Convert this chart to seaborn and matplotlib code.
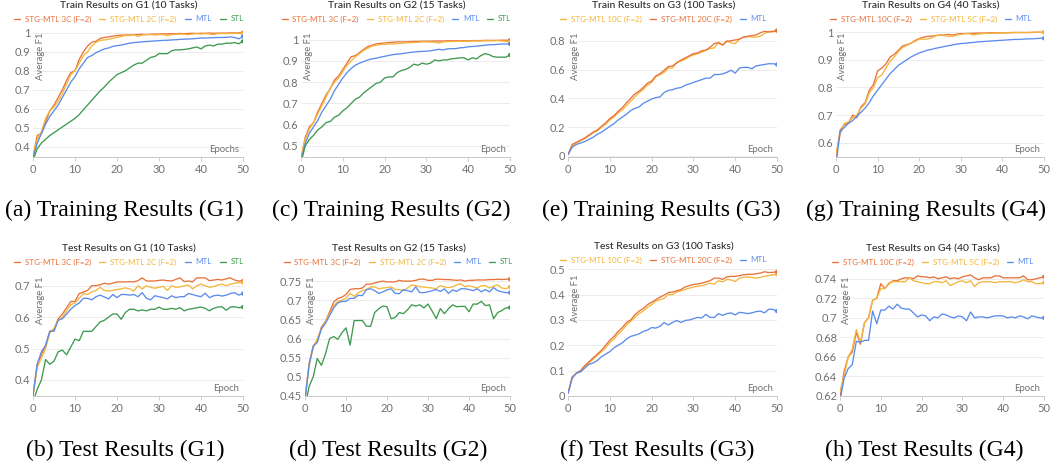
import numpy as np
import pandas as pd
import matplotlib
matplotlib.use("Agg")
import matplotlib.pyplot as plt
import seaborn as sns

# ---------------------------------------------------------------- data
epochs = np.arange(51)

# Training, G1 (10 tasks)
g1_train_3c = [0.35, 0.46, 0.47, 0.53, 0.59, 0.62, 0.66, 0.70, 0.75, 0.79,
               0.80, 0.86, 0.90, 0.93, 0.95, 0.955, 0.97, 0.975, 0.978, 0.982,
               0.985, 0.987, 0.988, 0.988, 0.990, 0.990, 0.992, 0.990, 0.992, 0.993,
               0.993, 0.994, 0.994, 0.995, 0.995, 0.996, 0.995, 0.996, 0.997, 0.996,
               0.997, 0.997, 0.998, 0.997, 0.998, 0.998, 0.998, 0.999, 0.999, 0.999,
               1.0]
g1_train_2c = [0.36, 0.44, 0.48, 0.55, 0.59, 0.61, 0.64, 0.68, 0.73, 0.78,
               0.80, 0.84, 0.88, 0.90, 0.93, 0.95, 0.96, 0.962, 0.965, 0.970,
               0.975, 0.980, 0.985, 0.985, 0.990, 0.980, 0.988, 0.990, 0.990, 0.988,
               0.990, 0.990, 0.985, 0.990, 0.992, 0.993, 0.992, 0.990, 0.993, 0.995,
               0.993, 0.995, 0.993, 0.990, 0.995, 0.996, 0.995, 0.996, 0.997, 0.996,
               0.995]
g1_train_mtl = [0.34, 0.42, 0.47, 0.52, 0.56, 0.59, 0.62, 0.66, 0.70, 0.74,
                0.77, 0.81, 0.84, 0.87, 0.88, 0.895, 0.905, 0.915, 0.920, 0.928,
                0.932, 0.935, 0.940, 0.945, 0.948, 0.950, 0.952, 0.954, 0.955, 0.957,
                0.958, 0.960, 0.960, 0.962, 0.963, 0.965, 0.966, 0.967, 0.968, 0.970,
                0.972, 0.972, 0.973, 0.974, 0.975, 0.975, 0.976, 0.978, 0.975, 0.968,
                0.980]
g1_train_stl = [0.33, 0.39, 0.42, 0.44, 0.46, 0.475, 0.49, 0.505, 0.52, 0.535,
                0.55, 0.57, 0.595, 0.62, 0.645, 0.67, 0.695, 0.715, 0.74, 0.76,
                0.78, 0.79, 0.80, 0.815, 0.83, 0.84, 0.84, 0.855, 0.87, 0.875,
                0.89, 0.89, 0.89, 0.905, 0.91, 0.91, 0.912, 0.915, 0.92, 0.925,
                0.915, 0.93, 0.935, 0.93, 0.94, 0.94, 0.945, 0.945, 0.948, 0.942,
                0.955]

# Training, G2 (15 tasks)
g2_train_3c = [0.44, 0.54, 0.59, 0.61, 0.66, 0.70, 0.74, 0.77, 0.81, 0.83,
               0.86, 0.89, 0.92, 0.925, 0.94, 0.955, 0.968, 0.975, 0.98, 0.983,
               0.985, 0.987, 0.988, 0.99, 0.99, 0.99, 0.991, 0.992, 0.992, 0.993,
               0.993, 0.993, 0.994, 0.994, 0.994, 0.995, 0.995, 0.995, 0.995, 0.996,
               0.995, 0.996, 0.996, 0.996, 0.997, 0.997, 0.997, 0.997, 0.998, 0.998,
               0.998]
g2_train_2c = [0.45, 0.53, 0.58, 0.61, 0.65, 0.69, 0.73, 0.77, 0.80, 0.82,
               0.85, 0.88, 0.90, 0.92, 0.935, 0.95, 0.96, 0.97, 0.975, 0.977,
               0.978, 0.98, 0.98, 0.982, 0.983, 0.985, 0.986, 0.987, 0.988, 0.99,
               0.99, 0.989, 0.988, 0.985, 0.99, 0.991, 0.992, 0.992, 0.993, 0.993,
               0.993, 0.994, 0.994, 0.994, 0.995, 0.995, 0.995, 0.996, 0.994, 0.992,
               0.99]
g2_train_mtl = [0.43, 0.51, 0.56, 0.59, 0.62, 0.66, 0.69, 0.72, 0.76, 0.79,
                0.82, 0.845, 0.865, 0.88, 0.89, 0.897, 0.905, 0.91, 0.913, 0.918,
                0.922, 0.926, 0.93, 0.932, 0.934, 0.937, 0.94, 0.942, 0.944, 0.945,
                0.946, 0.948, 0.952, 0.955, 0.952, 0.957, 0.958, 0.958, 0.962, 0.963,
                0.967, 0.968, 0.97, 0.972, 0.974, 0.976, 0.977, 0.978, 0.98, 0.98,
                0.98]
g2_train_stl = [0.42, 0.50, 0.53, 0.55, 0.575, 0.59, 0.61, 0.615, 0.635, 0.645,
                0.665, 0.68, 0.70, 0.72, 0.73, 0.75, 0.765, 0.78, 0.795, 0.80,
                0.82, 0.825, 0.825, 0.845, 0.855, 0.86, 0.87, 0.885, 0.88, 0.89,
                0.885, 0.89, 0.905, 0.90, 0.905, 0.905, 0.91, 0.912, 0.915, 0.915,
                0.905, 0.915, 0.91, 0.925, 0.935, 0.93, 0.92, 0.918, 0.918, 0.918,
                0.928]

# Training, G3 (100 tasks)
g3_train_10c = [0.01, 0.07, 0.09, 0.105, 0.12, 0.14, 0.16, 0.175, 0.20, 0.22,
                0.25, 0.27, 0.30, 0.32, 0.35, 0.38, 0.41, 0.44, 0.46, 0.49,
                0.51, 0.55, 0.565, 0.58, 0.61, 0.61, 0.65, 0.66, 0.67, 0.69,
                0.70, 0.71, 0.72, 0.735, 0.745, 0.75, 0.79, 0.77, 0.80, 0.785,
                0.78, 0.81, 0.825, 0.83, 0.825, 0.825, 0.83, 0.85, 0.865, 0.86,
                0.87]
g3_train_20c = [0.01, 0.08, 0.095, 0.11, 0.125, 0.145, 0.165, 0.18, 0.205, 0.23,
                0.26, 0.28, 0.31, 0.335, 0.37, 0.40, 0.43, 0.45, 0.475, 0.505,
                0.52, 0.555, 0.57, 0.595, 0.62, 0.625, 0.645, 0.665, 0.68, 0.695,
                0.71, 0.715, 0.73, 0.735, 0.755, 0.78, 0.785, 0.77, 0.795, 0.80,
                0.805, 0.81, 0.825, 0.83, 0.835, 0.84, 0.855, 0.865, 0.86, 0.865,
                0.87]
g3_train_mtl = [0.01, 0.06, 0.08, 0.09, 0.10, 0.115, 0.13, 0.15, 0.165, 0.185,
                0.205, 0.225, 0.25, 0.27, 0.29, 0.315, 0.33, 0.34, 0.365, 0.38,
                0.395, 0.405, 0.41, 0.44, 0.455, 0.46, 0.47, 0.475, 0.49, 0.50,
                0.51, 0.52, 0.53, 0.54, 0.54, 0.565, 0.565, 0.57, 0.58, 0.595,
                0.575, 0.61, 0.615, 0.615, 0.605, 0.625, 0.63, 0.635, 0.64, 0.64,
                0.635]

# Training, G4 (40 tasks)
g4_train_10c = [0.55, 0.645, 0.665, 0.67, 0.70, 0.69, 0.73, 0.745, 0.79, 0.81,
                0.86, 0.87, 0.885, 0.91, 0.92, 0.935, 0.95, 0.955, 0.96, 0.97,
                0.977, 0.982, 0.985, 0.986, 0.988, 0.99, 0.99, 0.992, 0.99, 0.993,
                0.995, 0.995, 0.996, 0.996, 0.997, 0.997, 0.997, 0.998, 0.998, 0.998,
                0.998, 0.998, 0.999, 0.999, 0.999, 0.999, 0.999, 0.999, 1.0, 1.0,
                1.0]
g4_train_5c = [0.56, 0.63, 0.67, 0.675, 0.69, 0.70, 0.725, 0.74, 0.78, 0.80,
               0.835, 0.845, 0.87, 0.895, 0.91, 0.93, 0.945, 0.952, 0.96, 0.967,
               0.975, 0.975, 0.975, 0.98, 0.987, 0.99, 0.988, 0.985, 0.985, 0.99,
               0.992, 0.995, 0.995, 0.99, 0.993, 0.995, 0.996, 0.996, 0.997, 0.997,
               0.998, 0.998, 0.998, 0.999, 0.999, 0.999, 0.999, 1.0, 1.0, 1.0,
               1.0]
g4_train_mtl = [0.52, 0.64, 0.655, 0.67, 0.68, 0.695, 0.71, 0.725, 0.745, 0.77,
                0.79, 0.81, 0.83, 0.85, 0.865, 0.88, 0.89, 0.90, 0.91, 0.918,
                0.925, 0.93, 0.935, 0.938, 0.942, 0.945, 0.948, 0.951, 0.954, 0.957,
                0.959, 0.96, 0.962, 0.963, 0.965, 0.966, 0.967, 0.968, 0.969, 0.97,
                0.971, 0.972, 0.973, 0.974, 0.974, 0.975, 0.976, 0.976, 0.977, 0.978,
                0.978]

# Test, G1 (10 tasks)
g1_test_3c = [0.35, 0.45, 0.48, 0.51, 0.555, 0.56, 0.595, 0.61, 0.63, 0.65,
              0.65, 0.675, 0.68, 0.685, 0.70, 0.70, 0.703, 0.708, 0.705, 0.708,
              0.712, 0.712, 0.712, 0.713, 0.712, 0.716, 0.725, 0.715, 0.715, 0.715,
              0.717, 0.718, 0.716, 0.715, 0.72, 0.725, 0.713, 0.715, 0.712, 0.725,
              0.725, 0.725, 0.716, 0.718, 0.72, 0.718, 0.722, 0.725, 0.718, 0.715,
              0.715]
g1_test_2c = [0.35, 0.44, 0.47, 0.50, 0.55, 0.565, 0.59, 0.60, 0.62, 0.64,
              0.645, 0.66, 0.675, 0.672, 0.68, 0.685, 0.695, 0.685, 0.683, 0.685,
              0.688, 0.69, 0.693, 0.69, 0.683, 0.70, 0.69, 0.70, 0.695, 0.692,
              0.695, 0.698, 0.685, 0.70, 0.695, 0.696, 0.70, 0.702, 0.69, 0.70,
              0.705, 0.70, 0.695, 0.697, 0.702, 0.705, 0.70, 0.705, 0.708, 0.71,
              0.71]
g1_test_mtl = [0.35, 0.45, 0.49, 0.51, 0.555, 0.555, 0.59, 0.595, 0.61, 0.625,
               0.637, 0.645, 0.66, 0.66, 0.655, 0.665, 0.67, 0.664, 0.658, 0.672,
               0.662, 0.672, 0.672, 0.67, 0.672, 0.665, 0.678, 0.66, 0.655, 0.668,
               0.665, 0.662, 0.658, 0.668, 0.662, 0.665, 0.665, 0.675, 0.672, 0.668,
               0.665, 0.676, 0.662, 0.668, 0.67, 0.667, 0.67, 0.675, 0.678, 0.67,
               0.675]
g1_test_stl = [0.33, 0.37, 0.40, 0.465, 0.45, 0.46, 0.49, 0.495, 0.48, 0.505,
               0.53, 0.525, 0.555, 0.555, 0.555, 0.57, 0.585, 0.59, 0.60, 0.61,
               0.61, 0.593, 0.615, 0.625, 0.625, 0.62, 0.623, 0.62, 0.625, 0.625,
               0.632, 0.625, 0.625, 0.628, 0.625, 0.63, 0.62, 0.625, 0.627, 0.63,
               0.632, 0.628, 0.62, 0.628, 0.632, 0.633, 0.622, 0.632, 0.633, 0.63,
               0.632]

# Test, G2 (15 tasks)
g2_test_3c = [0.44, 0.535, 0.58, 0.595, 0.63, 0.645, 0.67, 0.695, 0.705, 0.708,
              0.715, 0.728, 0.73, 0.73, 0.732, 0.742, 0.742, 0.745, 0.748, 0.75,
              0.748, 0.748, 0.748, 0.752, 0.75, 0.75, 0.75, 0.752, 0.755, 0.755,
              0.752, 0.752, 0.755, 0.755, 0.754, 0.754, 0.753, 0.752, 0.753, 0.75,
              0.752, 0.752, 0.753, 0.753, 0.753, 0.754, 0.754, 0.755, 0.754, 0.755,
              0.755]
g2_test_2c = [0.45, 0.53, 0.575, 0.60, 0.625, 0.645, 0.665, 0.685, 0.697, 0.70,
              0.705, 0.718, 0.71, 0.72, 0.725, 0.728, 0.735, 0.735, 0.73, 0.732,
              0.733, 0.735, 0.728, 0.728, 0.725, 0.732, 0.74, 0.738, 0.735, 0.735,
              0.733, 0.732, 0.73, 0.738, 0.735, 0.733, 0.735, 0.74, 0.743, 0.735,
              0.738, 0.735, 0.732, 0.738, 0.738, 0.732, 0.737, 0.74, 0.732, 0.73,
              0.735]
g2_test_mtl = [0.44, 0.53, 0.58, 0.59, 0.625, 0.64, 0.66, 0.68, 0.693, 0.697,
               0.697, 0.705, 0.705, 0.713, 0.712, 0.728, 0.73, 0.725, 0.718, 0.722,
               0.727, 0.73, 0.718, 0.717, 0.728, 0.725, 0.722, 0.735, 0.72, 0.72,
               0.722, 0.725, 0.728, 0.723, 0.73, 0.718, 0.727, 0.723, 0.73, 0.73,
               0.728, 0.725, 0.73, 0.722, 0.728, 0.722, 0.733, 0.725, 0.722, 0.72,
               0.72]
g2_test_stl = [0.42, 0.475, 0.50, 0.548, 0.53, 0.56, 0.60, 0.605, 0.598, 0.615,
               0.628, 0.583, 0.647, 0.647, 0.647, 0.632, 0.632, 0.668, 0.678, 0.685,
               0.683, 0.652, 0.655, 0.668, 0.665, 0.675, 0.688, 0.685, 0.688, 0.68,
               0.69, 0.672, 0.652, 0.678, 0.665, 0.678, 0.688, 0.683, 0.684, 0.684,
               0.67, 0.69, 0.69, 0.697, 0.686, 0.688, 0.652, 0.668, 0.673, 0.68,
               0.681]

# Test, G3 (100 tasks)
g3_test_10c = [0.01, 0.075, 0.09, 0.10, 0.115, 0.13, 0.145, 0.16, 0.175, 0.19,
               0.21, 0.225, 0.245, 0.26, 0.28, 0.295, 0.31, 0.325, 0.335, 0.35,
               0.36, 0.375, 0.38, 0.385, 0.40, 0.40, 0.41, 0.415, 0.42, 0.425,
               0.43, 0.433, 0.435, 0.44, 0.445, 0.442, 0.455, 0.45, 0.46, 0.458,
               0.452, 0.465, 0.468, 0.47, 0.468, 0.465, 0.468, 0.472, 0.475, 0.478,
               0.48]
g3_test_20c = [0.01, 0.075, 0.09, 0.10, 0.12, 0.135, 0.15, 0.165, 0.18, 0.20,
               0.22, 0.235, 0.255, 0.27, 0.29, 0.30, 0.32, 0.335, 0.345, 0.36,
               0.37, 0.38, 0.39, 0.398, 0.408, 0.41, 0.415, 0.42, 0.43, 0.435,
               0.44, 0.442, 0.445, 0.45, 0.455, 0.465, 0.465, 0.46, 0.47, 0.472,
               0.472, 0.475, 0.478, 0.48, 0.48, 0.482, 0.485, 0.49, 0.487, 0.488,
               0.49]
g3_test_mtl = [0.01, 0.07, 0.09, 0.095, 0.11, 0.125, 0.13, 0.14, 0.155, 0.165,
               0.175, 0.19, 0.20, 0.21, 0.225, 0.235, 0.24, 0.245, 0.255, 0.26,
               0.27, 0.268, 0.275, 0.29, 0.28, 0.29, 0.298, 0.29, 0.298, 0.30,
               0.305, 0.31, 0.308, 0.322, 0.31, 0.31, 0.325, 0.318, 0.325, 0.328,
               0.32, 0.33, 0.328, 0.325, 0.328, 0.333, 0.335, 0.328, 0.342, 0.342,
               0.335]

# Test, G4 (40 tasks)
g4_test_10c = [0.618, 0.645, 0.66, 0.665, 0.685, 0.673, 0.695, 0.70, 0.718, 0.72,
               0.735, 0.73, 0.735, 0.738, 0.738, 0.74, 0.741, 0.741, 0.74, 0.743,
               0.742, 0.742, 0.741, 0.742, 0.74, 0.741, 0.742, 0.74, 0.741, 0.74,
               0.742, 0.743, 0.744, 0.741, 0.739, 0.741, 0.741, 0.741, 0.743, 0.743,
               0.741, 0.741, 0.741, 0.741, 0.741, 0.743, 0.739, 0.739, 0.74, 0.741,
               0.742]
g4_test_5c = [0.625, 0.64, 0.66, 0.668, 0.688, 0.675, 0.695, 0.70, 0.718, 0.72,
              0.73, 0.73, 0.736, 0.737, 0.737, 0.737, 0.737, 0.741, 0.738, 0.737,
              0.736, 0.735, 0.735, 0.737, 0.737, 0.736, 0.738, 0.733, 0.735, 0.737,
              0.738, 0.736, 0.738, 0.732, 0.736, 0.737, 0.737, 0.737, 0.736, 0.737,
              0.737, 0.737, 0.737, 0.736, 0.737, 0.739, 0.737, 0.737, 0.735, 0.735,
              0.736]
g4_test_mtl = [0.615, 0.638, 0.648, 0.652, 0.676, 0.675, 0.677, 0.677, 0.707, 0.694,
               0.708, 0.708, 0.712, 0.709, 0.714, 0.71, 0.709, 0.709, 0.705, 0.701,
               0.703, 0.702, 0.697, 0.701, 0.70, 0.704, 0.703, 0.701, 0.70, 0.702,
               0.701, 0.697, 0.706, 0.70, 0.701, 0.701, 0.70, 0.701, 0.702, 0.702,
               0.702, 0.70, 0.701, 0.70, 0.702, 0.701, 0.699, 0.702, 0.701, 0.70,
               0.70]

# ---------------------------------------------------------------- style
sns.set_theme(style="white")
plt.rcParams['font.family'] = ['Lato', 'DejaVu Sans']

ORANGE = "#E9723A"
YELLOW = "#F4B63C"
BLUE = "#5B8CEB"
GREEN = "#3E9A50"
TICK_GREY = "#707070"
TITLE_GREY = "#2a2a2a"
GRID_GREY = "#ececec"

W, H = 1055, 467
fig = plt.figure(figsize=(W / 100, H / 100), dpi=100)


def px_axes(left, right, top, bottom):
    return fig.add_axes([left / W, 1 - bottom / H, (right - left) / W, (bottom - top) / H])


panels = [
    dict(title="Train Results on G1 (10 Tasks)", xlabel="Epochs",
         series=[("STG-MTL 3C (F=2)", g1_train_3c, ORANGE), ("STG-MTL 2C (F=2)", g1_train_2c, YELLOW),
                 ("MTL", g1_train_mtl, BLUE), ("STL", g1_train_stl, GREEN)],
         box=(33, 243, 27, 157), ylim=(0.347, 1.03), yticks=[0.4, 0.5, 0.6, 0.7, 0.8, 0.9, 1.0],
         caption="(a) Training Results (G1)", cap=(124, 210)),
    dict(title="Train Results on G2 (15 Tasks)", xlabel="Epoch",
         series=[("STG-MTL 3C (F=2)", g2_train_3c, ORANGE), ("STG-MTL 2C (F=2)", g2_train_2c, YELLOW),
                 ("MTL", g2_train_mtl, BLUE), ("STL", g2_train_stl, GREEN)],
         box=(301, 510, 27, 157), ylim=(0.448, 1.06), yticks=[0.5, 0.6, 0.7, 0.8, 0.9, 1.0],
         caption="(c) Training Results (G2)", cap=(391, 210)),
    dict(title="Train Results on G3 (100 Tasks)", xlabel="Epoch",
         series=[("STG-MTL 10C (F=2)", g3_train_10c, YELLOW), ("STG-MTL 20C (F=2)", g3_train_20c, ORANGE),
                 ("MTL", g3_train_mtl, BLUE)],
         box=(568, 777, 27, 157), ylim=(-0.007, 0.895), yticks=[0, 0.2, 0.4, 0.6, 0.8],
         caption="(e) Training Results (G3)", cap=(661, 210)),
    dict(title="Train Results on G4 (40 Tasks)", xlabel="Epoch",
         series=[("STG-MTL 10C (F=2)", g4_train_10c, ORANGE), ("STG-MTL 5C (F=2)", g4_train_5c, YELLOW),
                 ("MTL", g4_train_mtl, BLUE)],
         box=(836, 1044, 27, 157), ylim=(0.548, 1.019), yticks=[0.6, 0.7, 0.8, 0.9, 1.0],
         caption="(g) Training Results (G4)", cap=(926, 210)),
    dict(title="Test Results on G1 (10 Tasks)", xlabel="Epoch",
         series=[("STG-MTL 3C (F=2)", g1_test_3c, ORANGE), ("STG-MTL 2C (F=2)", g1_test_2c, YELLOW),
                 ("MTL", g1_test_mtl, BLUE), ("STL", g1_test_stl, GREEN)],
         box=(33, 243, 270, 396), ylim=(0.349, 0.75), yticks=[0.4, 0.5, 0.6, 0.7],
         caption="(b) Test Results (G1)", cap=(125, 450)),
    dict(title="Test Results on G2 (15 Tasks)", xlabel="Epoch",
         series=[("STG-MTL 3C (F=2)", g2_test_3c, ORANGE), ("STG-MTL 2C (F=2)", g2_test_2c, YELLOW),
                 ("MTL", g2_test_mtl, BLUE), ("STL", g2_test_stl, GREEN)],
         box=(305, 510, 270, 396), ylim=(0.45, 0.779), yticks=[0.45, 0.5, 0.55, 0.6, 0.65, 0.7, 0.75],
         caption="(d) Test Results (G2)", cap=(388, 450)),
    dict(title="Test Results on G3 (100 Tasks)", xlabel="Epoch",
         series=[("STG-MTL 10C (F=2)", g3_test_10c, YELLOW), ("STG-MTL 20C (F=2)", g3_test_20c, ORANGE),
                 ("MTL", g3_test_mtl, BLUE)],
         box=(568, 777, 268, 396), ylim=(0.0, 0.505), yticks=[0, 0.1, 0.2, 0.3, 0.4, 0.5],
         caption="(f) Test Results (G3)", cap=(657, 450)),
    dict(title="Test Results on G4 (40 Tasks)", xlabel="Epoch",
         series=[("STG-MTL 10C (F=2)", g4_test_10c, ORANGE), ("STG-MTL 5C (F=2)", g4_test_5c, YELLOW),
                 ("MTL", g4_test_mtl, BLUE)],
         box=(840, 1044, 270, 396), ylim=(0.62, 0.749), yticks=[0.62, 0.64, 0.66, 0.68, 0.7, 0.72, 0.74],
         caption="(h) Test Results (G4)", cap=(924, 450)),
]

for p in panels:
    left, right, top, bottom = p["box"]
    ax = px_axes(left, right, top, bottom)
    for label, vals, color in p["series"]:
        sns.lineplot(x=epochs, y=vals, ax=ax, color=color, linewidth=0.95, label=label)
        sns.scatterplot(x=[epochs[-1]], y=[vals[-1]], ax=ax, color=color, s=9,
                        edgecolor="none", zorder=5)

    ax.set_xlim(0, 50)
    ax.set_ylim(*p["ylim"])
    ax.set_xticks([0, 10, 20, 30, 40, 50])
    ax.set_yticks(p["yticks"])
    ax.set_yticklabels([f"{v:g}" for v in p["yticks"]])
    ax.tick_params(axis="both", labelsize=8, colors=TICK_GREY, pad=2)
    ax.tick_params(axis="x", length=3, width=0.6, color="#c8c8c8", bottom=True)
    ax.tick_params(axis="y", length=0)
    ax.grid(axis="y", color=GRID_GREY, linewidth=0.7)
    ax.set_axisbelow(True)
    for side in ("top", "right", "left"):
        ax.spines[side].set_visible(False)
    ax.spines["bottom"].set_color("#c8c8c8")
    ax.spines["bottom"].set_linewidth(0.7)
    ax.set_xlabel("")
    ax.set_ylabel("")

    ax.text(0.012, 1 - 6 / (bottom - top), "Average F1", transform=ax.transAxes,
            rotation=90, ha="left", va="top", fontsize=6.8, color=TICK_GREY)
    ax.text(0.98, 0.06, p["xlabel"], transform=ax.transAxes, ha="right",
            va="center", fontsize=6.8, color=TICK_GREY)

    cx = (left + right) / 2 - 9
    fig.text(cx / W, 1 - (top - 21) / H, p["title"], ha="center", va="center",
             fontsize=7.4, fontweight="medium", color=TITLE_GREY)
    ax.legend(loc="center", bbox_to_anchor=(cx / W, 1 - (top - 8) / H),
              bbox_transform=fig.transFigure, ncol=len(p["series"]), frameon=False,
              fontsize=5.8, handlelength=0.75, handletextpad=0.6, columnspacing=1.0,
              labelcolor="linecolor", borderaxespad=0, borderpad=0)

    fig.text(p["cap"][0] / W, 1 - p["cap"][1] / H, p["caption"], ha="center",
             va="center", fontsize=17, family="Liberation Serif", color="black")

fig.savefig("out.png", dpi=100)
